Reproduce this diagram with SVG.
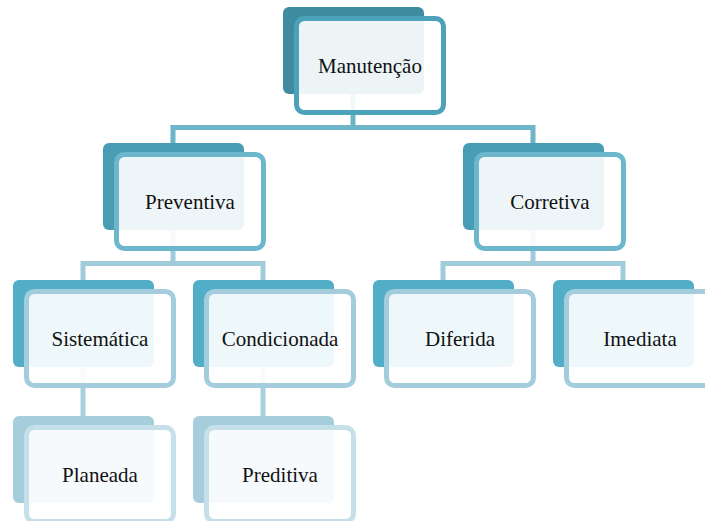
<svg xmlns="http://www.w3.org/2000/svg" width="705" height="521" viewBox="0 0 705 521">
<style>
.back{stroke:none}
.front{fill:#ffffff;fill-opacity:0.9;stroke-width:5}
.lbl{font-family:"Liberation Serif","Times New Roman",serif;font-size:21px;fill:#111;text-anchor:middle}
.c{fill:none;stroke-width:5;stroke-linejoin:miter;stroke-linecap:butt}
.l1 .back{fill:#3f8ba0}.l1 .front{stroke:#4ba2b9}
.l2 .back{fill:#489db5}.l2 .front{stroke:#6db7cc}
.l3 .back{fill:#52adc7}.l3 .front{stroke:#a3cddc}
.l4 .back{fill:#a5cddc}.l4 .front{stroke:#c6e0e9}
</style>
<rect width="705" height="521" fill="#ffffff"/>
<g id="connectors">
<path class="c" stroke="#6fb5ca" d="M353 88V127.5M173 143V127.5H533V143"/>
<path class="c" stroke="#9fcbda" d="M173 225V263.5M83 280V263.5H263V280"/>
<path class="c" stroke="#9fcbda" d="M533 225V263.5M443 280V263.5H623V280"/>
<path class="c" stroke="#a8d0de" d="M83 362V416M263 362V416"/>
</g>
<g id="manutencao" class="l1">
<rect class="back" x="283" y="7" width="141" height="87" rx="6"/>
<rect class="front" x="296.5" y="18.5" width="147" height="94" rx="8"/>
<text class="lbl" x="370" y="72.5">Manutenção</text>
</g>
<g id="preventiva" class="l2">
<rect class="back" x="103" y="143" width="141" height="87" rx="6"/>
<rect class="front" x="116.5" y="154.5" width="147" height="94" rx="8"/>
<text class="lbl" x="190" y="209">Preventiva</text>
</g>
<g id="corretiva" class="l2">
<rect class="back" x="463" y="143" width="141" height="87" rx="6"/>
<rect class="front" x="476.5" y="154.5" width="147" height="94" rx="8"/>
<text class="lbl" x="550" y="209">Corretiva</text>
</g>
<g id="sistematica" class="l3">
<rect class="back" x="13" y="280" width="141" height="87" rx="6"/>
<rect class="front" x="26.5" y="291.5" width="147" height="94" rx="8"/>
<text class="lbl" x="100" y="346">Sistemática</text>
</g>
<g id="condicionada" class="l3">
<rect class="back" x="193" y="280" width="141" height="87" rx="6"/>
<rect class="front" x="206.5" y="291.5" width="147" height="94" rx="8"/>
<text class="lbl" x="280" y="346">Condicionada</text>
</g>
<g id="diferida" class="l3">
<rect class="back" x="373" y="280" width="141" height="87" rx="6"/>
<rect class="front" x="386.5" y="291.5" width="147" height="94" rx="8"/>
<text class="lbl" x="460" y="346">Diferida</text>
</g>
<g id="imediata" class="l3">
<rect class="back" x="553" y="280" width="141" height="87" rx="6"/>
<rect class="front" x="566.5" y="291.5" width="147" height="94" rx="8"/>
<text class="lbl" x="640" y="346">Imediata</text>
</g>
<g id="planeada" class="l4">
<rect class="back" x="13" y="416" width="141" height="87" rx="6"/>
<rect class="front" x="26.5" y="427.5" width="147" height="94" rx="8"/>
<text class="lbl" x="100" y="482">Planeada</text>
</g>
<g id="preditiva" class="l4">
<rect class="back" x="193" y="416" width="141" height="87" rx="6"/>
<rect class="front" x="206.5" y="427.5" width="147" height="94" rx="8"/>
<text class="lbl" x="280" y="482">Preditiva</text>
</g>
</svg>
